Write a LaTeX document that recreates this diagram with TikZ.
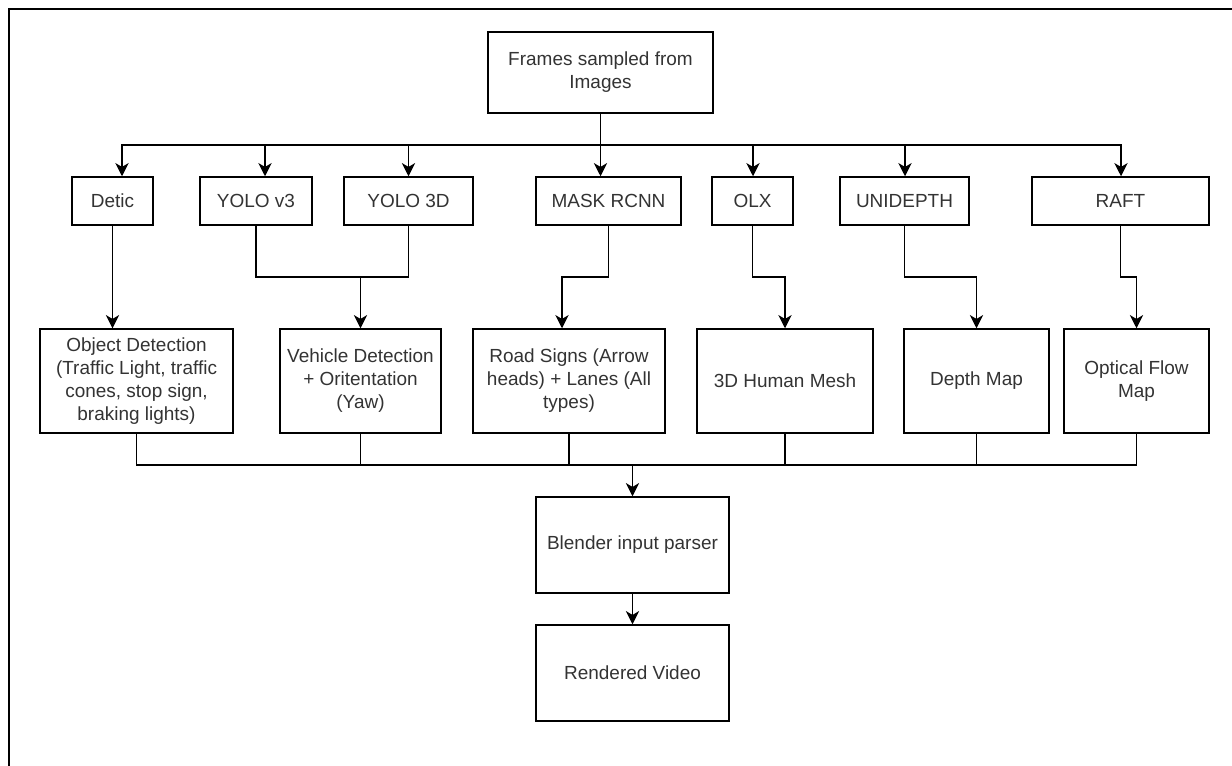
\documentclass[tikz,border=0pt]{standalone}
\usepackage{fontspec}
\setmainfont{Liberation Sans}
\usetikzlibrary{arrows.meta,calc}

\begin{document}
\begin{tikzpicture}[x=0.02cm, y=-0.02cm, line width=0.85pt,
    >={Stealth[length=7.5pt,width=7.5pt,inset=2.2pt]},
    box/.style={draw, rectangle, align=center, inner sep=2pt, text=black!80,
        font=\fontsize{10.8}{13.1}\selectfont}]
    \useasboundingbox (0,0) rectangle (1232,766);
    % Frame
    \draw[line width=1.2pt] (9,766) -- (9,9) -- (1232,9);

    % Source
    \node[box, minimum width=4.5cm, minimum height=1.62cm] (frames) at (600.5,72.5) {Frames sampled from\\Images};

    % Models
    \node[box, minimum width=1.62cm, minimum height=0.96cm] (detic) at (112.5,201) {Detic};
    \node[box, minimum width=2.24cm, minimum height=0.96cm] (yolothree) at (256,201) {YOLO v3};
    \node[box, minimum width=2.58cm, minimum height=0.96cm] (yolothreed) at (408.5,201) {YOLO 3D};
    \node[box, minimum width=2.9cm, minimum height=0.96cm] (mask) at (608.5,201) {MASK RCNN};
    \node[box, minimum width=1.62cm, minimum height=0.96cm] (olx) at (752.5,201) {OLX};
    \node[box, minimum width=2.58cm, minimum height=0.96cm] (unidepth) at (904.5,201) {UNIDEPTH};
    \node[box, minimum width=3.54cm, minimum height=0.96cm] (raft) at (1120.5,201) {RAFT};

    % Outputs
    \node[box, minimum width=3.86cm, minimum height=2.08cm] (objdet) at (136.5,381) {Object Detection\\(Traffic Light, traffic\\cones, stop sign,\\braking lights)};
    \node[box, minimum width=3.22cm, minimum height=2.08cm] (vehdet) at (360.5,381) {Vehicle Detection\\+ Oritentation\\(Yaw)};
    \node[box, minimum width=3.84cm, minimum height=2.08cm] (signs) at (569,381) {Road Signs (Arrow\\heads) + Lanes (All\\types)};
    \node[box, minimum width=3.52cm, minimum height=2.08cm] (mesh) at (785,381) {3D Human Mesh};
    \node[box, minimum width=2.9cm, minimum height=2.08cm] (depth) at (976.5,381) {Depth Map};
    \node[box, minimum width=2.9cm, minimum height=2.08cm] (flow) at (1136.5,381) {Optical Flow\\Map};

    % Render
    \node[box, minimum width=3.86cm, minimum height=1.92cm] (blender) at (632.5,545) {Blender input parser};
    \node[box, minimum width=3.86cm, minimum height=1.92cm] (video) at (632.5,673) {Rendered Video};

    % Fan out
    \coordinate (busL) at (122,145);
    \coordinate (busR) at (1121,145);
    \draw (busL) -- (busR);
    \draw[->] (frames.south) -- (frames.south |- mask.north);
    \foreach \n/\dx in {detic/9.5, yolothree/9, yolothreed/0, olx/0.5, unidepth/0.5, raft/0.5}
        \draw[->] ($(\n.north)+(\dx,-32)$) -- ($(\n.north)+(\dx,0)$);

    % Model to output
    \coordinate (mid) at (0,277);
    \draw[->] (detic.south) -- (detic.south |- objdet.north);
    \draw (yolothree.south) |- (mid -| yolothreed.south) -- (yolothreed.south);
    \draw[->] (vehdet.north |- mid) -- (vehdet.north);
    \draw[->] (mask.south) |- ($(signs.north |- mid)+(-7,0)$) -- ($(signs.north)+(-7,0)$);
    \draw[->] (olx.south) |- (mesh.north |- mid) -- (mesh.north);
    \draw[->] (unidepth.south) |- (depth.north |- mid) -- (depth.north);
    \draw[->] (raft.south) |- (flow.north |- mid) -- (flow.north);

    % Fan in
    \coordinate (busB) at (0,465);
    \draw (objdet.south) |- (flow.south |- busB) -- (flow.south);
    \foreach \n in {vehdet, signs, mesh, depth}
        \draw (\n.south) -- (\n.south |- busB);
    \draw[->] (blender.north |- busB) -- (blender.north);
    \draw[->] (blender) -- (video);
\end{tikzpicture}
\end{document}
